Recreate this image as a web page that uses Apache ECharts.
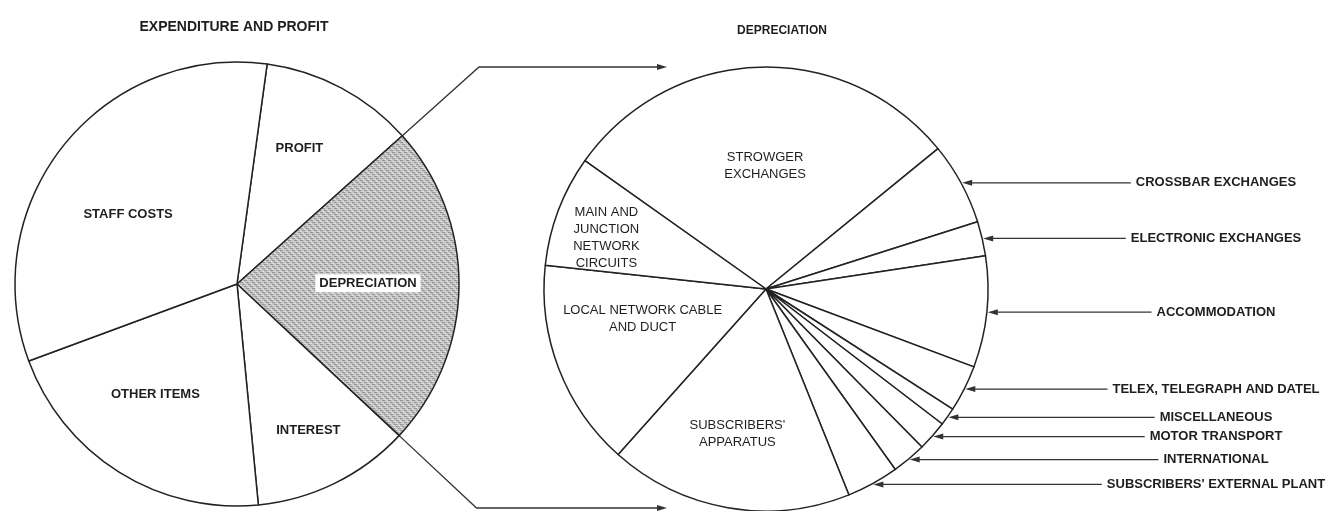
<!DOCTYPE html>
<html>
<head>
<meta charset="utf-8">
<script src="https://cdn.jsdelivr.net/npm/echarts@6/dist/echarts.min.js"></script>
<style>
  html, body { margin: 0; padding: 0; background: #fff; }
  #chart { width: 1332px; height: 511px; }
</style>
</head>
<body>
<div id="chart"></div>
<script>
// expenditure and profit, share in percent
const leftNames = ['PROFIT', 'DEPRECIATION', 'INTEREST', 'OTHER ITEMS', 'STAFF COSTS'];
const leftValues = [11.2, 23.6, 11.5, 20.9, 32.8];

// depreciation broken down, share in percent
const rightNames = [
  'STROWGER\nEXCHANGES', 'CROSSBAR EXCHANGES', 'ELECTRONIC EXCHANGES', 'ACCOMMODATION',
  'TELEX, TELEGRAPH AND DATEL', 'MISCELLANEOUS', 'MOTOR TRANSPORT', 'INTERNATIONAL',
  "SUBSCRIBERS' EXTERNAL PLANT", "SUBSCRIBERS'\nAPPARATUS", 'LOCAL NETWORK CABLE\nAND DUCT',
  'MAIN AND\nJUNCTION\nNETWORK\nCIRCUITS'
];
const rightValues = [29.3, 6.0, 2.5, 8.1, 3.4, 1.3, 2.2, 2.5, 3.8, 17.7, 15.1, 8.1];

const FONT = '"Liberation Sans", Arial, sans-serif';
const INK = '#1e1e1e';

// pie geometry (pixels) and start angles
const L = { cx: 237, cy: 284, r: 222, start: 82.2 };
const R = { cx: 766, cy: 289, r: 222, start: 144.7 };
const OUT_X = 1216;   // centre of the labels on the right

// nudges for the labels drawn inside the slices
const leftShift = [[9, -35], [17, -2], [21, 44], [-21, 14], [-20, 2]];
const rightShift = { 0: [3, -9], 9: [-9, 33], 10: [-17, -11], 11: [-53, -11] };

// slice angles, clockwise from 12 o'clock
function arcs(values, start) {
  const total = values.reduce((a, b) => a + b, 0);
  let a = 90 - start;
  return values.map(v => {
    const s = a;
    a += v / total * 360;
    return { s: s, e: a, m: (s + a) / 2 };
  });
}
function pt(c, r, deg) {
  const t = deg * Math.PI / 180;
  return [c.cx + r * Math.sin(t), c.cy - r * Math.cos(t)];
}
const leftArcs = arcs(leftValues, L.start);
const rightArcs = arcs(rightValues, R.start);

// grey screen for the depreciation slice
function hatch() {
  const c = document.createElement('canvas');
  c.width = 6; c.height = 6;
  const g = c.getContext('2d');
  g.fillStyle = '#c4c4c4';
  g.fillRect(0, 0, 6, 6);
  g.fillStyle = '#969696';
  for (let y = 0; y < 6; y += 2) {
    for (let k = 0; k < 3; k++) g.fillRect((y + k) % 6, y, 1, 1);
  }
  g.fillStyle = '#e0e0e0';
  for (let y = 1; y < 6; y += 2) g.fillRect((y + 3) % 6, y, 2, 1);
  return c;
}

function arrowHead(x, y, dir) {
  // dir = -1 points left, 1 points right
  return {
    type: 'polygon', silent: true,
    shape: { points: [[x, y], [x - dir * 10, y - 3], [x - dir * 10, y + 3]] },
    style: { fill: '#333' }
  };
}

const graphics = [];
// arrows to the small slices
rightArcs.forEach((a, i) => {
  if (rightShift[i]) return;
  const p = pt(R, R.r + 1, a.m);
  graphics.push(arrowHead(p[0], p[1], -1));
});
// connectors from the depreciation slice to the second pie
const dep = leftArcs[1];
[[dep.s, 67], [dep.e, 508]].forEach(([deg, yBend]) => {
  const p0 = pt(L, L.r, deg);
  const t = deg * Math.PI / 180;
  const len = (yBend - L.cy) / -Math.cos(t);
  const p1 = pt(L, len, deg);
  graphics.push({
    type: 'polyline', silent: true,
    shape: { points: [p0, p1, [658, yBend]] },
    style: { stroke: '#333', lineWidth: 1.3, fill: null }
  });
  graphics.push(arrowHead(667, yBend, 1));
});

const chart = echarts.init(document.getElementById('chart'));
chart.setOption({
  animation: false,
  title: [
    { text: 'EXPENDITURE AND PROFIT', left: 229, top: 15, textAlign: 'center',
      textStyle: { fontFamily: FONT, fontSize: 14, fontWeight: 'bold', color: INK } },
    { text: 'DEPRECIATION', left: 777, top: 20, textAlign: 'center',
      textStyle: { fontFamily: FONT, fontSize: 12, fontWeight: 'bold', color: INK } }
  ],
  graphic: graphics,
  series: [
    {
      type: 'pie',
      center: [L.cx, L.cy],
      radius: L.r,
      startAngle: L.start,
      silent: true,
      avoidLabelOverlap: false,
      emphasis: { disabled: true },
      itemStyle: { color: '#fff', borderColor: '#222', borderWidth: 1.5 },
      label: { position: 'inside', formatter: '{b}', color: INK, fontFamily: FONT, fontSize: 13, fontWeight: 'bold' },
      labelLine: { show: false },
      labelLayout: p => ({ dx: leftShift[p.dataIndex][0], dy: leftShift[p.dataIndex][1] }),
      data: leftNames.map((n, i) => {
        const d = { name: n, value: leftValues[i] };
        if (i === 1) {
          d.itemStyle = { color: { image: hatch(), repeat: 'repeat' } };
          d.label = { backgroundColor: '#fff', padding: [3, 4, 2, 4] };
        }
        return d;
      })
    },
    {
      type: 'pie',
      center: [R.cx, R.cy],
      radius: R.r,
      startAngle: R.start,
      silent: true,
      avoidLabelOverlap: false,
      emphasis: { disabled: true },
      itemStyle: { color: '#fff', borderColor: '#222', borderWidth: 1.5 },
      label: { position: 'inside', formatter: '{b}', color: INK, fontFamily: FONT, fontSize: 13, lineHeight: 17 },
      labelLine: { show: false, lineStyle: { color: '#333', width: 1.3 } },
      labelLayout: function (p) {
        const i = p.dataIndex;
        if (rightShift[i]) return { dx: rightShift[i][0], dy: rightShift[i][1] };
        const tip = pt(R, R.r + 1, rightArcs[i].m);
        const left = OUT_X - p.labelRect.width / 2 - 5;
        return {
          x: OUT_X, y: tip[1], align: 'center', verticalAlign: 'middle',
          labelLinePoints: [[tip[0] + 9, tip[1]], [(tip[0] + left) / 2, tip[1]], [left, tip[1]]]
        };
      },
      data: rightNames.map((n, i) => {
        const d = { name: n, value: rightValues[i] };
        if (!rightShift[i]) {
          d.label = { position: 'outside', fontWeight: 'bold' };
          d.labelLine = { show: true, length: 5, length2: 5 };
        }
        return d;
      })
    }
  ]
});
</script>
</body>
</html>
